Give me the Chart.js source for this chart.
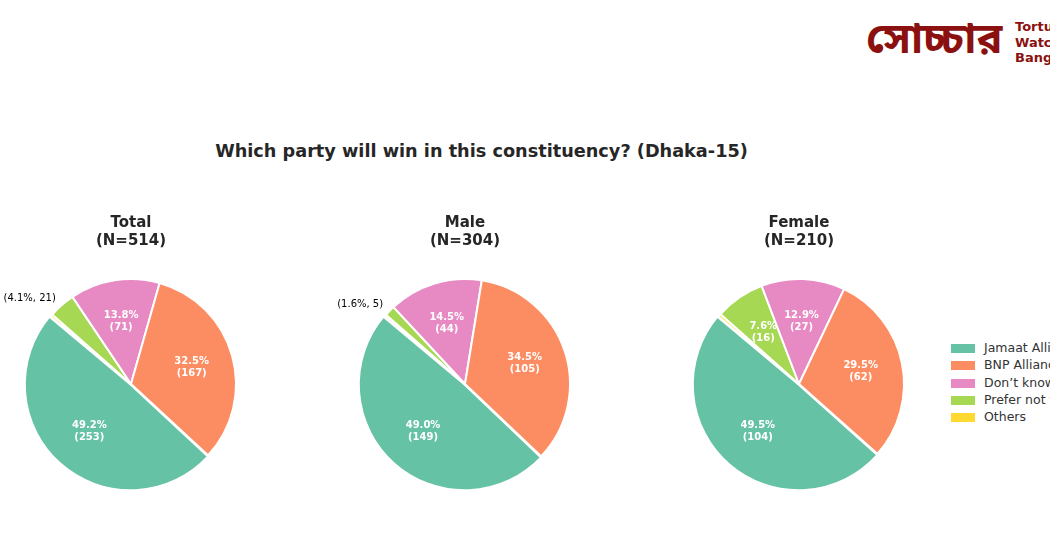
<!DOCTYPE html>
<html>
<head>
<meta charset="utf-8">
<script src="https://cdn.jsdelivr.net/npm/chart.js@4.4.0/dist/chart.umd.min.js"></script>
<style>
  html, body { margin: 0; padding: 0; background: #fff; }
  #page { position: relative; width: 1050px; height: 557px; overflow: hidden; font-family: "DejaVu Sans", sans-serif; }
  #logo { position: absolute; left: 866px; top: 6px; color: #8b1111; }
  #logo .bn { position: absolute; left: 0; top: 8px; font-size: 43px; font-weight: bold; white-space: nowrap; font-family: "Noto Sans Bengali", "Noto Sans", sans-serif; }
  #logo .en { position: absolute; left: 149px; top: 13px; font-size: 13px; font-weight: bold; line-height: 15.5px; white-space: nowrap; }
  #title { position: absolute; left: 0; width: 963px; top: 141px; text-align: center; font-size: 17.7px; font-weight: bold; color: #262626; }
  canvas { position: absolute; }
  #legend { position: absolute; left: 951px; top: 339px; font-size: 12.5px; color: #333; }
  #legend div { height: 17.3px; line-height: 17.3px; white-space: nowrap; }
  #legend span { display: inline-block; width: 24px; height: 9px; margin-right: 9px; vertical-align: -1px; }
</style>
</head>
<body>
<div id="page">
  <div id="logo"><div class="bn">সোচ্চার</div><div class="en">Torture<br>Watch<br>Bangladesh</div></div>
  <div id="title">Which party will win in this constituency? (Dhaka-15)</div>
  <canvas id="cTotal" width="300" height="309"></canvas>
  <canvas id="cMale" width="300" height="309"></canvas>
  <canvas id="cFemale" width="300" height="309"></canvas>
  <div id="legend"></div>
</div>
<script>
// answer options, in legend order
const categories = ['Jamaat Alliance', 'BNP Alliance', 'Don\u2019t know', 'Prefer not to say', 'Others'];
const colours = ['#66c2a5', '#fc8d62', '#e78ac3', '#a6d854', '#ffd92f'];

// respondent counts per group
const totalCounts = [253, 167, 71, 21, 2];
const maleCounts = [149, 105, 44, 5, 1];
const femaleCounts = [104, 62, 27, 16, 1];

const groups = [
  { id: 'cTotal', name: 'Total', counts: totalCounts, cx: 131 },
  { id: 'cMale', name: 'Male', counts: maleCounts, cx: 465 },
  { id: 'cFemale', name: 'Female', counts: femaleCounts, cx: 799 }
];

// labels like matplotlib autopct: inside for big slices, outside for small ones
const sliceLabels = {
  id: 'sliceLabels',
  afterDatasetsDraw(chart) {
    const ctx = chart.ctx;
    const ds = chart.data.datasets[0];
    const sum = ds.data.reduce((a, b) => a + b, 0);
    chart.getDatasetMeta(0).data.forEach((arc, i) => {
      const v = ds.data[i];
      const pct = v / sum * 100;
      if (pct < 1) return;
      const p = arc.getProps(['x', 'y', 'startAngle', 'endAngle', 'outerRadius']);
      const mid = (p.startAngle + p.endAngle) / 2;
      ctx.save();
      if (pct >= 5) {
        const r = p.outerRadius * 0.6;
        const x = p.x + Math.cos(mid) * r, y = p.y + Math.sin(mid) * r;
        ctx.fillStyle = '#fff';
        ctx.font = 'bold 10px "DejaVu Sans"';
        ctx.textAlign = 'center';
        ctx.textBaseline = 'middle';
        ctx.fillText(pct.toFixed(1) + '%', x, y - 6);
        ctx.fillText('(' + v + ')', x, y + 6);
      } else {
        const r = p.outerRadius * 1.1;
        const x = p.x + Math.cos(mid) * r, y = p.y + Math.sin(mid) * r;
        ctx.fillStyle = '#000';
        ctx.font = '10px "DejaVu Sans"';
        ctx.textAlign = Math.cos(mid) < 0 ? 'right' : 'left';
        ctx.textBaseline = 'middle';
        ctx.fillText('(' + pct.toFixed(1) + '%, ' + v + ')', x + 1, y + 1);
      }
      ctx.restore();
    });
  }
};

groups.forEach(g => {
  const canvas = document.getElementById(g.id);
  canvas.style.left = (g.cx - 150) + 'px';
  canvas.style.top = '200px';
  const n = g.counts.reduce((a, b) => a + b, 0);
  // reversed so the slices run counter-clockwise like the original
  const data = g.counts.slice().reverse();
  const cols = colours.slice().reverse();
  const offs = categories.map((c, i) => i === 0 ? 3 : 0).reverse();
  new Chart(canvas.getContext('2d'), {
    type: 'pie',
    data: {
      labels: categories.slice().reverse(),
      datasets: [{
        data: data,
        backgroundColor: cols,
        borderColor: '#ffffff',
        borderWidth: 2,
        offset: offs
      }]
    },
    options: {
      responsive: false,
      animation: false,
      rotation: -50,
      radius: 105,
      layout: { padding: 0 },
      plugins: {
        legend: { display: false },
        tooltip: { enabled: false },
        title: {
          display: true,
          text: [g.name, '(N=' + n + ')'],
          color: '#262626',
          font: { family: 'DejaVu Sans', size: 15, weight: 'bold', lineHeight: '18px' },
          padding: { top: 14, bottom: 9 }
        }
      }
    },
    plugins: [sliceLabels]
  });
});

// legend in the original order
const legend = document.getElementById('legend');
categories.forEach((c, i) => {
  const row = document.createElement('div');
  row.innerHTML = '<span style="background:' + colours[i] + '"></span>' + c;
  legend.appendChild(row);
});
</script>
</body>
</html>
